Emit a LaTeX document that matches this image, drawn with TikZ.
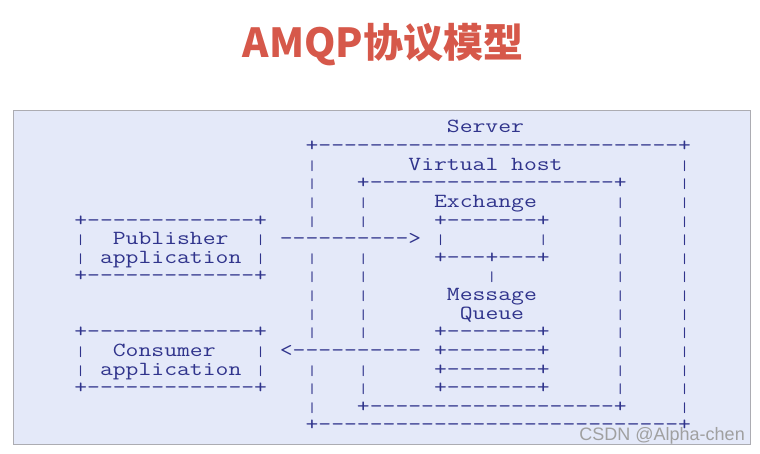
\documentclass[tikz,border=0pt]{standalone}
\usepackage{fontspec}
\newfontfamily\cjk{Noto Sans CJK SC}
\newfontfamily\wmfont{Liberation Sans}
\definecolor{ink}{RGB}{48,52,140}
\definecolor{panel}{RGB}{228,233,249}
\definecolor{panelborder}{RGB}{172,172,178}
\definecolor{titlered}{RGB}{214,88,74}
\definecolor{wmgray}{RGB}{160,160,160}
\ExplSyntaxOn
\NewDocumentCommand\reptxt{mm}{\prg_replicate:nn{#1}{#2}}
\ExplSyntaxOff
\newlength\cellw
\newcommand\sgap[1]{\kern#1\cellw}
\newcommand\dsh[1]{\reptxt{#1}{-\kern0pt}}
\newcommand\vb{\makebox[\cellw][c]{\fontsize{14pt}{14pt}\selectfont|}}
\newcommand\aline[1]{\settowidth\cellw{0}\scalebox{\fpeval{12.85pt/\cellw}}[1]{#1}}
\tikzset{
  asciirow/.style={anchor=base west, inner sep=0pt, outer sep=0pt, text=ink,
    font=\ttfamily\fontsize{20pt}{20pt}\selectfont},
  titletext/.style={anchor=base, inner sep=0pt, text=titlered,
    font=\cjk\bfseries\fontsize{40pt}{40pt}\selectfont},
  watermark/.style={anchor=base east, inner sep=0pt, text=wmgray,
    font=\wmfont\fontsize{18pt}{18pt}\selectfont}
}
\begin{document}
\begin{tikzpicture}[x=1pt,y=-1pt]
\useasboundingbox (0,0) rectangle (760,453);
\fill[white] (0,0) rectangle (760,453);
\draw[panelborder, fill=panel, line width=1pt] (13,110) rectangle (750,444);
\node[titletext] (title) at (383,57) {AMQP协议模型};
\def\rx{74.3}
\def\ry#1{132.9+18.625*#1}
\node[asciirow] (row0) at (\rx,{\ry{0}}) {\aline{\sgap{29}Server}};
\node[asciirow] (row1) at (\rx,{\ry{1}}) {\aline{\sgap{18}+\dsh{28}+}};
\node[asciirow] (row2) at (\rx,{\ry{2}}) {\aline{\sgap{18}\vb\sgap{7}Virtual\sgap{1}host\sgap{9}\vb}};
\node[asciirow] (row3) at (\rx,{\ry{3}}) {\aline{\sgap{18}\vb\sgap{3}+\dsh{19}+\sgap{4}\vb}};
\node[asciirow] (row4) at (\rx,{\ry{4}}) {\aline{\sgap{18}\vb\sgap{3}\vb\sgap{5}Exchange\sgap{6}\vb\sgap{4}\vb}};
\node[asciirow] (row5) at (\rx,{\ry{5}}) {\aline{+\dsh{13}+\sgap{3}\vb\sgap{3}\vb\sgap{5}+\dsh{7}+\sgap{5}\vb\sgap{4}\vb}};
\node[asciirow] (row6) at (\rx,{\ry{6}}) {\aline{\vb\sgap{2}Publisher\sgap{2}\vb\sgap{1}\dsh{10}>\sgap{1}\vb\sgap{7}\vb\sgap{5}\vb\sgap{4}\vb}};
\node[asciirow] (row7) at (\rx,{\ry{7}}) {\aline{\vb\sgap{1}application\sgap{1}\vb\sgap{3}\vb\sgap{3}\vb\sgap{5}+\dsh{3}+\dsh{3}+\sgap{5}\vb\sgap{4}\vb}};
\node[asciirow] (row8) at (\rx,{\ry{8}}) {\aline{+\dsh{13}+\sgap{3}\vb\sgap{3}\vb\sgap{9}\vb\sgap{9}\vb\sgap{4}\vb}};
\node[asciirow] (row9) at (\rx,{\ry{9}}) {\aline{\sgap{18}\vb\sgap{3}\vb\sgap{6}Message\sgap{6}\vb\sgap{4}\vb}};
\node[asciirow] (row10) at (\rx,{\ry{10}}) {\aline{\sgap{18}\vb\sgap{3}\vb\sgap{7}Queue\sgap{7}\vb\sgap{4}\vb}};
\node[asciirow] (row11) at (\rx,{\ry{11}}) {\aline{+\dsh{13}+\sgap{3}\vb\sgap{3}\vb\sgap{5}+\dsh{7}+\sgap{5}\vb\sgap{4}\vb}};
\node[asciirow] (row12) at (\rx,{\ry{12}}) {\aline{\vb\sgap{2}Consumer\sgap{3}\vb\sgap{1}<\dsh{10}\sgap{1}+\dsh{7}+\sgap{5}\vb\sgap{4}\vb}};
\node[asciirow] (row13) at (\rx,{\ry{13}}) {\aline{\vb\sgap{1}application\sgap{1}\vb\sgap{3}\vb\sgap{3}\vb\sgap{5}+\dsh{7}+\sgap{5}\vb\sgap{4}\vb}};
\node[asciirow] (row14) at (\rx,{\ry{14}}) {\aline{+\dsh{13}+\sgap{3}\vb\sgap{3}\vb\sgap{5}+\dsh{7}+\sgap{5}\vb\sgap{4}\vb}};
\node[asciirow] (row15) at (\rx,{\ry{15}}) {\aline{\sgap{18}\vb\sgap{3}+\dsh{19}+\sgap{4}\vb}};
\node[asciirow] (row16) at (\rx,{\ry{16}}) {\aline{\sgap{18}+\dsh{28}+}};
\node[watermark] (wm) at (745,440) {CSDN @Alpha-chen};
\end{tikzpicture}
\end{document}
